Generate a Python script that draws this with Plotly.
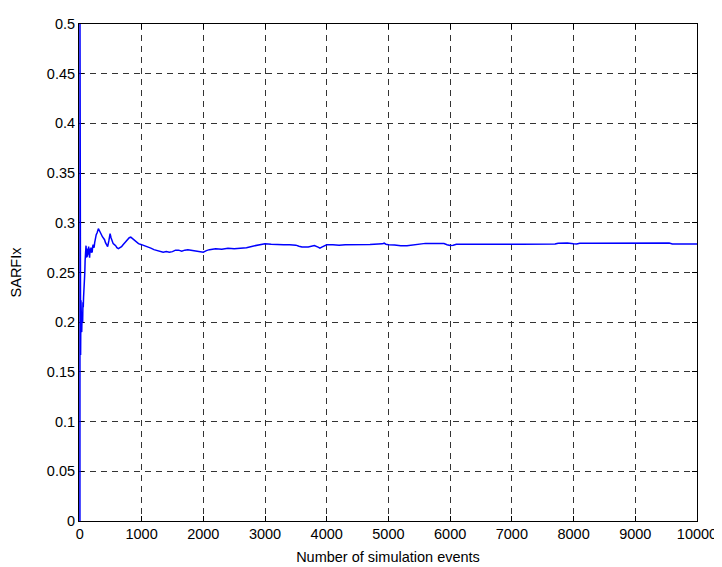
import plotly.graph_objects as go

events = [1, 2, 3, 5, 8, 12, 18, 25, 30, 35, 40, 45, 50, 55, 60, 65, 70, 75, 80, 85, 90, 95, 100,
          105, 110, 115, 120, 128, 135, 142, 150, 158, 165, 172, 180, 190, 200, 208, 215, 222, 230,
          240, 250, 265, 280, 290, 300, 310, 320, 335, 350, 365, 380, 400, 415, 430, 450, 470, 490,
          505, 520, 540, 560, 580, 600, 625, 650, 675, 700, 725, 750, 775, 800, 825, 850, 875, 900,
          950, 1000, 1050, 1100, 1150, 1200, 1250, 1300, 1350, 1400, 1450, 1500, 1550, 1600, 1650,
          1700, 1750, 1800, 1850, 1900, 1950, 2000, 2050, 2100, 2200, 2300, 2400, 2500, 2600, 2700,
          2800, 2900, 3000, 3100, 3200, 3300, 3400, 3500, 3550, 3600, 3700, 3760, 3800, 3860, 3890,
          3920, 3960, 4000, 4100, 4200, 4300, 4500, 4700, 4900, 4930, 4960, 5000, 5100, 5200, 5300,
          5400, 5500, 5600, 5800, 5900, 5950, 6000, 6050, 6100, 6500, 6800, 6850, 6900, 7050, 7100,
          7150, 7700, 7750, 7900, 7950, 8000, 8050, 8100, 8300, 8600, 9100, 9150, 9340, 9380, 9550,
          9600, 10000]
sarfix = [0.0, 0.5, 0.333, 0.4, 0.25, 0.167, 0.222, 0.2, 0.19, 0.205, 0.21, 0.2, 0.22, 0.215, 0.225,
          0.23, 0.24, 0.245, 0.25, 0.262, 0.27, 0.265, 0.277,
          0.268, 0.265, 0.274, 0.266, 0.272, 0.268, 0.276, 0.27, 0.265, 0.274, 0.27, 0.275, 0.27,
          0.271, 0.276, 0.278, 0.276, 0.275,
          0.28, 0.285, 0.288, 0.29, 0.292, 0.294, 0.293, 0.292, 0.29, 0.288, 0.286, 0.285, 0.283,
          0.28, 0.278, 0.276, 0.282, 0.289,
          0.285, 0.282, 0.279, 0.278, 0.277, 0.275, 0.274, 0.275, 0.276, 0.278, 0.28, 0.282, 0.284,
          0.285, 0.2855, 0.284, 0.283, 0.281,
          0.279, 0.278, 0.277, 0.2755, 0.2745, 0.273, 0.272, 0.2715, 0.2705, 0.271, 0.2705, 0.271,
          0.2725, 0.2725, 0.2715,
          0.2725, 0.273, 0.2725, 0.272, 0.2715, 0.2712, 0.2705, 0.272, 0.273, 0.274, 0.2735, 0.2745,
          0.274, 0.2745, 0.275,
          0.2765, 0.278, 0.279, 0.2785, 0.278, 0.278, 0.2778, 0.2775, 0.2765, 0.2757, 0.2757, 0.277,
          0.2772, 0.2755, 0.2745,
          0.2755, 0.277, 0.2778, 0.2778, 0.2775, 0.278, 0.278, 0.2782, 0.2788, 0.2795, 0.2785, 0.278,
          0.2777, 0.2768, 0.277,
          0.2778, 0.278, 0.2793, 0.2793, 0.2792, 0.278, 0.2772, 0.2775, 0.2785, 0.2785, 0.2784,
          0.278, 0.2785, 0.2783, 0.2778,
          0.2785, 0.2786, 0.2795, 0.2797, 0.279, 0.2789, 0.2787, 0.2795, 0.2795, 0.2794, 0.2795,
          0.2798, 0.2795, 0.279, 0.2797,
          0.2787, 0.2787]

x_ticks = [0, 1000, 2000, 3000, 4000, 5000, 6000, 7000, 8000, 9000, 10000]
x_labels = [str(v) for v in x_ticks]
y_ticks = [0, 0.05, 0.1, 0.15, 0.2, 0.25, 0.3, 0.35, 0.4, 0.45, 0.5]
y_labels = ["0", "0.05", "0.1", "0.15", "0.2", "0.25", "0.3", "0.35", "0.4", "0.45", "0.5"]

FONT = dict(family="Liberation Sans, Arial", size=14.5, color="black")

fig = go.Figure()
fig.add_trace(go.Scatter(x=events, y=sarfix, mode="lines",
                         line=dict(color="#0000ff", width=1.5), showlegend=False))

axis_common = dict(
    showline=True, linecolor="black", linewidth=1, mirror="ticks",
    ticks="inside", ticklen=5, tickcolor="black", tickwidth=1,
    showgrid=True, gridcolor="#333333", gridwidth=1, griddash="6px,5px",
    zeroline=False, tickfont=FONT, layer="below traces",
)

fig.update_xaxes(range=[-14, 10000], tickvals=x_ticks, ticktext=x_labels,
                 title=dict(text="Number of simulation events", standoff=10, font=FONT),
                 **axis_common)
fig.update_yaxes(range=[0, 0.5], tickvals=y_ticks, ticktext=y_labels,
                 title=dict(text="SARFIx", standoff=23, font=FONT),
                 **axis_common)

fig.update_layout(width=714, height=559, margin=dict(l=71, r=25, t=16, b=46, autoexpand=False),
                  plot_bgcolor="white", paper_bgcolor="white")

fig.write_html("out.html")
